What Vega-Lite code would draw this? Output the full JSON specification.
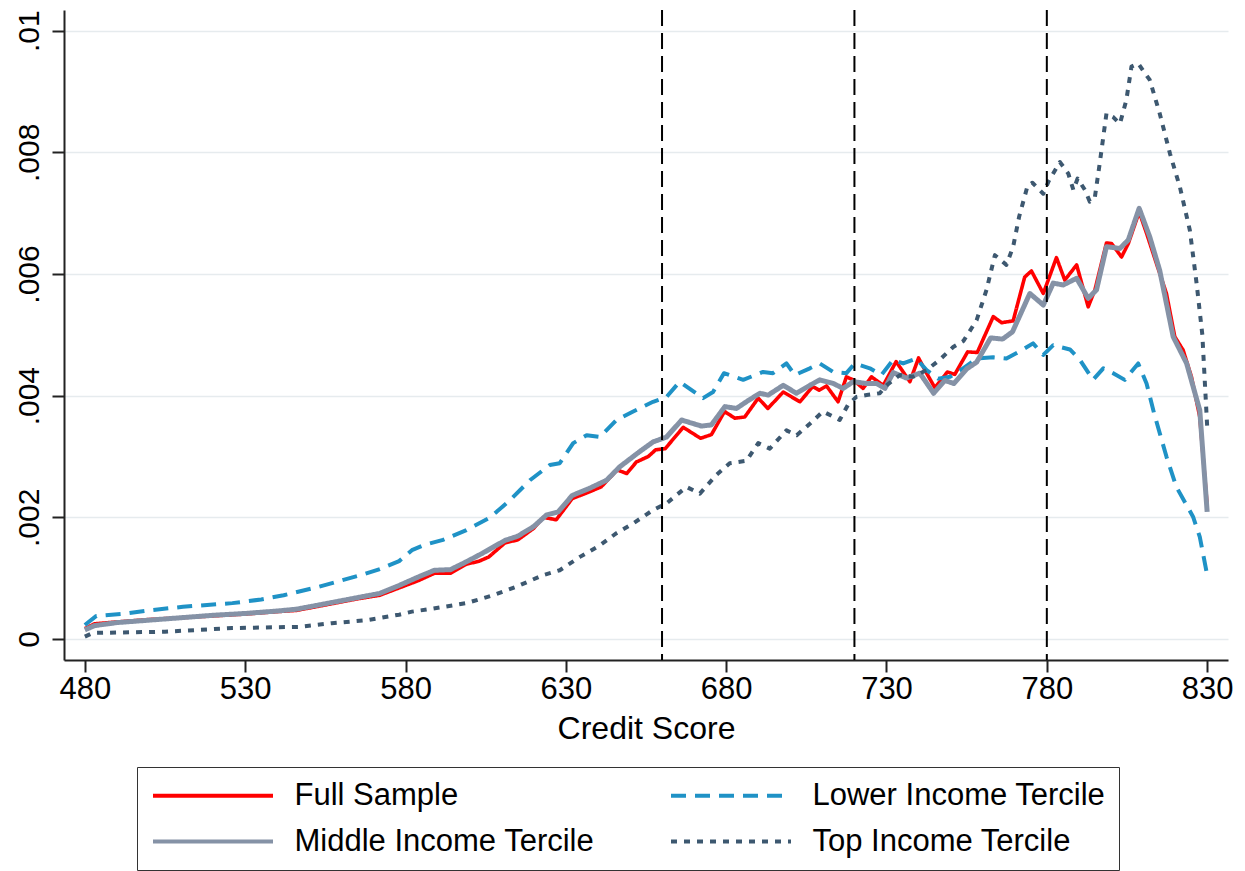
{
  "$schema": "https://vega.github.io/schema/vega-lite/v6.json",
  "width": 1164,
  "height": 650,
  "autosize": {"type": "none"},
  "padding": {"left": 64, "top": 10, "right": 17, "bottom": 211},
  "background": "white",
  "config": {
    "view": {"stroke": null},
    "font": "Liberation Sans"
  },
  "datasets": {
    "curves": [
      {"series": "Full Sample", "score": 480, "rate": 0.00017},
      {"series": "Full Sample", "score": 483, "rate": 0.00025},
      {"series": "Full Sample", "score": 490, "rate": 0.00028},
      {"series": "Full Sample", "score": 500, "rate": 0.00032},
      {"series": "Full Sample", "score": 510, "rate": 0.00035},
      {"series": "Full Sample", "score": 520, "rate": 0.00038},
      {"series": "Full Sample", "score": 530, "rate": 0.00041},
      {"series": "Full Sample", "score": 540, "rate": 0.00045},
      {"series": "Full Sample", "score": 546, "rate": 0.00047},
      {"series": "Full Sample", "score": 552, "rate": 0.00053},
      {"series": "Full Sample", "score": 558, "rate": 0.00059},
      {"series": "Full Sample", "score": 565, "rate": 0.00066},
      {"series": "Full Sample", "score": 572, "rate": 0.00072},
      {"series": "Full Sample", "score": 578, "rate": 0.00084},
      {"series": "Full Sample", "score": 584, "rate": 0.00096},
      {"series": "Full Sample", "score": 589, "rate": 0.00108},
      {"series": "Full Sample", "score": 594, "rate": 0.00108},
      {"series": "Full Sample", "score": 599, "rate": 0.00123},
      {"series": "Full Sample", "score": 603, "rate": 0.00128},
      {"series": "Full Sample", "score": 606, "rate": 0.00135},
      {"series": "Full Sample", "score": 611, "rate": 0.00158},
      {"series": "Full Sample", "score": 615, "rate": 0.00163},
      {"series": "Full Sample", "score": 620, "rate": 0.00182},
      {"series": "Full Sample", "score": 623, "rate": 0.002},
      {"series": "Full Sample", "score": 627, "rate": 0.00196},
      {"series": "Full Sample", "score": 632, "rate": 0.00231},
      {"series": "Full Sample", "score": 636, "rate": 0.00239},
      {"series": "Full Sample", "score": 641, "rate": 0.0025},
      {"series": "Full Sample", "score": 646, "rate": 0.00278},
      {"series": "Full Sample", "score": 649, "rate": 0.00272},
      {"series": "Full Sample", "score": 652, "rate": 0.00291},
      {"series": "Full Sample", "score": 655.7, "rate": 0.003},
      {"series": "Full Sample", "score": 658, "rate": 0.00311},
      {"series": "Full Sample", "score": 661, "rate": 0.00313},
      {"series": "Full Sample", "score": 666.6, "rate": 0.00348},
      {"series": "Full Sample", "score": 672, "rate": 0.0033},
      {"series": "Full Sample", "score": 675.4, "rate": 0.00336},
      {"series": "Full Sample", "score": 679.5, "rate": 0.00374},
      {"series": "Full Sample", "score": 682.7, "rate": 0.00363},
      {"series": "Full Sample", "score": 685.8, "rate": 0.00365},
      {"series": "Full Sample", "score": 690, "rate": 0.00396},
      {"series": "Full Sample", "score": 693, "rate": 0.00379},
      {"series": "Full Sample", "score": 697.8, "rate": 0.00406},
      {"series": "Full Sample", "score": 703, "rate": 0.0039},
      {"series": "Full Sample", "score": 707, "rate": 0.00415},
      {"series": "Full Sample", "score": 709, "rate": 0.00409},
      {"series": "Full Sample", "score": 711.3, "rate": 0.00416},
      {"series": "Full Sample", "score": 714.9, "rate": 0.0039},
      {"series": "Full Sample", "score": 717.5, "rate": 0.00431},
      {"series": "Full Sample", "score": 719.6, "rate": 0.00426},
      {"series": "Full Sample", "score": 722.7, "rate": 0.00412},
      {"series": "Full Sample", "score": 725.3, "rate": 0.00431},
      {"series": "Full Sample", "score": 729, "rate": 0.00417},
      {"series": "Full Sample", "score": 733, "rate": 0.00456},
      {"series": "Full Sample", "score": 737.3, "rate": 0.00423},
      {"series": "Full Sample", "score": 740, "rate": 0.00462},
      {"series": "Full Sample", "score": 742.5, "rate": 0.00437},
      {"series": "Full Sample", "score": 745.1, "rate": 0.00413},
      {"series": "Full Sample", "score": 749, "rate": 0.00439},
      {"series": "Full Sample", "score": 751.3, "rate": 0.00435},
      {"series": "Full Sample", "score": 755.3, "rate": 0.00472},
      {"series": "Full Sample", "score": 758.3, "rate": 0.00471},
      {"series": "Full Sample", "score": 763.3, "rate": 0.0053},
      {"series": "Full Sample", "score": 765.9, "rate": 0.0052},
      {"series": "Full Sample", "score": 769.5, "rate": 0.00523},
      {"series": "Full Sample", "score": 773.1, "rate": 0.00595},
      {"series": "Full Sample", "score": 775.2, "rate": 0.00605},
      {"series": "Full Sample", "score": 778.9, "rate": 0.00568},
      {"series": "Full Sample", "score": 783, "rate": 0.00627},
      {"series": "Full Sample", "score": 785.6, "rate": 0.0059},
      {"series": "Full Sample", "score": 789.3, "rate": 0.00615},
      {"series": "Full Sample", "score": 792.9, "rate": 0.00546},
      {"series": "Full Sample", "score": 795, "rate": 0.00574},
      {"series": "Full Sample", "score": 798.6, "rate": 0.00651},
      {"series": "Full Sample", "score": 800.2, "rate": 0.0065},
      {"series": "Full Sample", "score": 803.3, "rate": 0.00628},
      {"series": "Full Sample", "score": 805.4, "rate": 0.0065},
      {"series": "Full Sample", "score": 808.8, "rate": 0.00702},
      {"series": "Full Sample", "score": 811.1, "rate": 0.00667},
      {"series": "Full Sample", "score": 814.2, "rate": 0.00617},
      {"series": "Full Sample", "score": 817.3, "rate": 0.00568},
      {"series": "Full Sample", "score": 819.9, "rate": 0.00497},
      {"series": "Full Sample", "score": 822.5, "rate": 0.00475},
      {"series": "Full Sample", "score": 825.1, "rate": 0.00431},
      {"series": "Full Sample", "score": 827.7, "rate": 0.00365},
      {"series": "Full Sample", "score": 830, "rate": 0.0022},

      {"series": "Lower Income Tercile", "score": 480, "rate": 0.00023},
      {"series": "Lower Income Tercile", "score": 483.6, "rate": 0.00038},
      {"series": "Lower Income Tercile", "score": 493, "rate": 0.00042},
      {"series": "Lower Income Tercile", "score": 500, "rate": 0.00047},
      {"series": "Lower Income Tercile", "score": 510.6, "rate": 0.00053},
      {"series": "Lower Income Tercile", "score": 526, "rate": 0.00059},
      {"series": "Lower Income Tercile", "score": 535, "rate": 0.00065},
      {"series": "Lower Income Tercile", "score": 542, "rate": 0.00072},
      {"series": "Lower Income Tercile", "score": 553, "rate": 0.00086},
      {"series": "Lower Income Tercile", "score": 566, "rate": 0.00105},
      {"series": "Lower Income Tercile", "score": 572, "rate": 0.00115},
      {"series": "Lower Income Tercile", "score": 578, "rate": 0.00128},
      {"series": "Lower Income Tercile", "score": 582, "rate": 0.00146},
      {"series": "Lower Income Tercile", "score": 586, "rate": 0.00155},
      {"series": "Lower Income Tercile", "score": 591.7, "rate": 0.00163},
      {"series": "Lower Income Tercile", "score": 599, "rate": 0.00179},
      {"series": "Lower Income Tercile", "score": 605.8, "rate": 0.00198},
      {"series": "Lower Income Tercile", "score": 608.4, "rate": 0.00209},
      {"series": "Lower Income Tercile", "score": 612.5, "rate": 0.00228},
      {"series": "Lower Income Tercile", "score": 618.8, "rate": 0.00261},
      {"series": "Lower Income Tercile", "score": 625, "rate": 0.00286},
      {"series": "Lower Income Tercile", "score": 628.1, "rate": 0.00289},
      {"series": "Lower Income Tercile", "score": 632.3, "rate": 0.00322},
      {"series": "Lower Income Tercile", "score": 636.5, "rate": 0.00335},
      {"series": "Lower Income Tercile", "score": 640.6, "rate": 0.00332},
      {"series": "Lower Income Tercile", "score": 645.8, "rate": 0.0036},
      {"series": "Lower Income Tercile", "score": 651, "rate": 0.00374},
      {"series": "Lower Income Tercile", "score": 657.2, "rate": 0.0039},
      {"series": "Lower Income Tercile", "score": 661.4, "rate": 0.00398},
      {"series": "Lower Income Tercile", "score": 665.5, "rate": 0.00423},
      {"series": "Lower Income Tercile", "score": 669, "rate": 0.0041},
      {"series": "Lower Income Tercile", "score": 672.8, "rate": 0.00396},
      {"series": "Lower Income Tercile", "score": 675.9, "rate": 0.00406},
      {"series": "Lower Income Tercile", "score": 679.3, "rate": 0.00437},
      {"series": "Lower Income Tercile", "score": 685.3, "rate": 0.00426},
      {"series": "Lower Income Tercile", "score": 691.5, "rate": 0.00439},
      {"series": "Lower Income Tercile", "score": 694.6, "rate": 0.00437},
      {"series": "Lower Income Tercile", "score": 698.8, "rate": 0.00453},
      {"series": "Lower Income Tercile", "score": 701.4, "rate": 0.00434},
      {"series": "Lower Income Tercile", "score": 706.1, "rate": 0.00445},
      {"series": "Lower Income Tercile", "score": 709.2, "rate": 0.00453},
      {"series": "Lower Income Tercile", "score": 713.4, "rate": 0.00439},
      {"series": "Lower Income Tercile", "score": 717.5, "rate": 0.00437},
      {"series": "Lower Income Tercile", "score": 720.1, "rate": 0.00453},
      {"series": "Lower Income Tercile", "score": 724.8, "rate": 0.00445},
      {"series": "Lower Income Tercile", "score": 728.4, "rate": 0.00434},
      {"series": "Lower Income Tercile", "score": 732.1, "rate": 0.00459},
      {"series": "Lower Income Tercile", "score": 735.2, "rate": 0.00453},
      {"series": "Lower Income Tercile", "score": 739.3, "rate": 0.00461},
      {"series": "Lower Income Tercile", "score": 742.5, "rate": 0.00442},
      {"series": "Lower Income Tercile", "score": 746.1, "rate": 0.00428},
      {"series": "Lower Income Tercile", "score": 749.8, "rate": 0.00431},
      {"series": "Lower Income Tercile", "score": 753.9, "rate": 0.00445},
      {"series": "Lower Income Tercile", "score": 758.1, "rate": 0.00461},
      {"series": "Lower Income Tercile", "score": 763.3, "rate": 0.00463},
      {"series": "Lower Income Tercile", "score": 767.4, "rate": 0.00461},
      {"series": "Lower Income Tercile", "score": 771.6, "rate": 0.00473},
      {"series": "Lower Income Tercile", "score": 775.7, "rate": 0.00486},
      {"series": "Lower Income Tercile", "score": 778.9, "rate": 0.00467},
      {"series": "Lower Income Tercile", "score": 782, "rate": 0.00483},
      {"series": "Lower Income Tercile", "score": 787.2, "rate": 0.00476},
      {"series": "Lower Income Tercile", "score": 790.3, "rate": 0.00459},
      {"series": "Lower Income Tercile", "score": 794.4, "rate": 0.00426},
      {"series": "Lower Income Tercile", "score": 797.6, "rate": 0.00445},
      {"series": "Lower Income Tercile", "score": 800.7, "rate": 0.00437},
      {"series": "Lower Income Tercile", "score": 804.3, "rate": 0.00426},
      {"series": "Lower Income Tercile", "score": 808.5, "rate": 0.00453},
      {"series": "Lower Income Tercile", "score": 811.1, "rate": 0.0042},
      {"series": "Lower Income Tercile", "score": 813.5, "rate": 0.0037},
      {"series": "Lower Income Tercile", "score": 817.3, "rate": 0.003},
      {"series": "Lower Income Tercile", "score": 820.4, "rate": 0.0025},
      {"series": "Lower Income Tercile", "score": 825.6, "rate": 0.00201},
      {"series": "Lower Income Tercile", "score": 827.7, "rate": 0.00168},
      {"series": "Lower Income Tercile", "score": 830, "rate": 0.00105},

      {"series": "Middle Income Tercile", "score": 480, "rate": 0.00015},
      {"series": "Middle Income Tercile", "score": 483, "rate": 0.00022},
      {"series": "Middle Income Tercile", "score": 490, "rate": 0.00027},
      {"series": "Middle Income Tercile", "score": 500, "rate": 0.00031},
      {"series": "Middle Income Tercile", "score": 510, "rate": 0.00035},
      {"series": "Middle Income Tercile", "score": 520, "rate": 0.00039},
      {"series": "Middle Income Tercile", "score": 530, "rate": 0.00042},
      {"series": "Middle Income Tercile", "score": 540, "rate": 0.00046},
      {"series": "Middle Income Tercile", "score": 546, "rate": 0.00049},
      {"series": "Middle Income Tercile", "score": 552, "rate": 0.00055},
      {"series": "Middle Income Tercile", "score": 558, "rate": 0.00061},
      {"series": "Middle Income Tercile", "score": 565, "rate": 0.00068},
      {"series": "Middle Income Tercile", "score": 572, "rate": 0.00075},
      {"series": "Middle Income Tercile", "score": 578, "rate": 0.00088},
      {"series": "Middle Income Tercile", "score": 584, "rate": 0.00102},
      {"series": "Middle Income Tercile", "score": 589, "rate": 0.00113},
      {"series": "Middle Income Tercile", "score": 594, "rate": 0.00114},
      {"series": "Middle Income Tercile", "score": 599, "rate": 0.00127},
      {"series": "Middle Income Tercile", "score": 604, "rate": 0.00141},
      {"series": "Middle Income Tercile", "score": 611, "rate": 0.00162},
      {"series": "Middle Income Tercile", "score": 615, "rate": 0.00169},
      {"series": "Middle Income Tercile", "score": 620, "rate": 0.00185},
      {"series": "Middle Income Tercile", "score": 624, "rate": 0.00204},
      {"series": "Middle Income Tercile", "score": 627.6, "rate": 0.00209},
      {"series": "Middle Income Tercile", "score": 632, "rate": 0.00236},
      {"series": "Middle Income Tercile", "score": 637.5, "rate": 0.00248},
      {"series": "Middle Income Tercile", "score": 642.7, "rate": 0.00261},
      {"series": "Middle Income Tercile", "score": 646.8, "rate": 0.00283},
      {"series": "Middle Income Tercile", "score": 653, "rate": 0.00308},
      {"series": "Middle Income Tercile", "score": 657.2, "rate": 0.00324},
      {"series": "Middle Income Tercile", "score": 661.4, "rate": 0.00332},
      {"series": "Middle Income Tercile", "score": 666.1, "rate": 0.0036},
      {"series": "Middle Income Tercile", "score": 672.3, "rate": 0.0035},
      {"series": "Middle Income Tercile", "score": 675.4, "rate": 0.00352},
      {"series": "Middle Income Tercile", "score": 679.6, "rate": 0.00382},
      {"series": "Middle Income Tercile", "score": 683.2, "rate": 0.00379},
      {"series": "Middle Income Tercile", "score": 686.3, "rate": 0.0039},
      {"series": "Middle Income Tercile", "score": 690.5, "rate": 0.00404},
      {"series": "Middle Income Tercile", "score": 693.1, "rate": 0.00401},
      {"series": "Middle Income Tercile", "score": 697.8, "rate": 0.00417},
      {"series": "Middle Income Tercile", "score": 701.9, "rate": 0.00404},
      {"series": "Middle Income Tercile", "score": 706.1, "rate": 0.00417},
      {"series": "Middle Income Tercile", "score": 709.2, "rate": 0.00426},
      {"series": "Middle Income Tercile", "score": 713.4, "rate": 0.0042},
      {"series": "Middle Income Tercile", "score": 716.5, "rate": 0.00412},
      {"series": "Middle Income Tercile", "score": 719.6, "rate": 0.00423},
      {"series": "Middle Income Tercile", "score": 723.8, "rate": 0.0042},
      {"series": "Middle Income Tercile", "score": 726.9, "rate": 0.0042},
      {"series": "Middle Income Tercile", "score": 729.5, "rate": 0.00412},
      {"series": "Middle Income Tercile", "score": 732.1, "rate": 0.00438},
      {"series": "Middle Income Tercile", "score": 736.2, "rate": 0.00429},
      {"series": "Middle Income Tercile", "score": 740.4, "rate": 0.00437},
      {"series": "Middle Income Tercile", "score": 744.7, "rate": 0.00404},
      {"series": "Middle Income Tercile", "score": 748.2, "rate": 0.00425},
      {"series": "Middle Income Tercile", "score": 751, "rate": 0.0042},
      {"series": "Middle Income Tercile", "score": 755, "rate": 0.00444},
      {"series": "Middle Income Tercile", "score": 758.1, "rate": 0.00455},
      {"series": "Middle Income Tercile", "score": 762.5, "rate": 0.00495},
      {"series": "Middle Income Tercile", "score": 766.2, "rate": 0.00493},
      {"series": "Middle Income Tercile", "score": 769.3, "rate": 0.00505},
      {"series": "Middle Income Tercile", "score": 774.7, "rate": 0.00568},
      {"series": "Middle Income Tercile", "score": 778.9, "rate": 0.00549},
      {"series": "Middle Income Tercile", "score": 782, "rate": 0.00585},
      {"series": "Middle Income Tercile", "score": 785.1, "rate": 0.00582},
      {"series": "Middle Income Tercile", "score": 789.3, "rate": 0.00593},
      {"series": "Middle Income Tercile", "score": 792.9, "rate": 0.0056},
      {"series": "Middle Income Tercile", "score": 795.5, "rate": 0.00574},
      {"series": "Middle Income Tercile", "score": 798.6, "rate": 0.00645},
      {"series": "Middle Income Tercile", "score": 802.8, "rate": 0.00642},
      {"series": "Middle Income Tercile", "score": 805.4, "rate": 0.00656},
      {"series": "Middle Income Tercile", "score": 808.8, "rate": 0.00708},
      {"series": "Middle Income Tercile", "score": 812.1, "rate": 0.00661},
      {"series": "Middle Income Tercile", "score": 815.2, "rate": 0.00606},
      {"series": "Middle Income Tercile", "score": 819.4, "rate": 0.00497},
      {"series": "Middle Income Tercile", "score": 823.6, "rate": 0.00453},
      {"series": "Middle Income Tercile", "score": 827.7, "rate": 0.00376},
      {"series": "Middle Income Tercile", "score": 830, "rate": 0.00209},

      {"series": "Top Income Tercile", "score": 480, "rate": 0.00004},
      {"series": "Top Income Tercile", "score": 482.5, "rate": 0.0001},
      {"series": "Top Income Tercile", "score": 505, "rate": 0.00012},
      {"series": "Top Income Tercile", "score": 526, "rate": 0.00018},
      {"series": "Top Income Tercile", "score": 547, "rate": 0.0002},
      {"series": "Top Income Tercile", "score": 557, "rate": 0.00026},
      {"series": "Top Income Tercile", "score": 568, "rate": 0.00031},
      {"series": "Top Income Tercile", "score": 578, "rate": 0.0004},
      {"series": "Top Income Tercile", "score": 582, "rate": 0.00045},
      {"series": "Top Income Tercile", "score": 588.6, "rate": 0.0005},
      {"series": "Top Income Tercile", "score": 599, "rate": 0.00059},
      {"series": "Top Income Tercile", "score": 607.3, "rate": 0.00072},
      {"series": "Top Income Tercile", "score": 614.6, "rate": 0.00086},
      {"series": "Top Income Tercile", "score": 622.9, "rate": 0.00105},
      {"series": "Top Income Tercile", "score": 628.1, "rate": 0.00113},
      {"series": "Top Income Tercile", "score": 634.4, "rate": 0.00135},
      {"series": "Top Income Tercile", "score": 640.6, "rate": 0.00154},
      {"series": "Top Income Tercile", "score": 645.8, "rate": 0.00174},
      {"series": "Top Income Tercile", "score": 651, "rate": 0.0019},
      {"series": "Top Income Tercile", "score": 657.2, "rate": 0.00212},
      {"series": "Top Income Tercile", "score": 661.4, "rate": 0.00223},
      {"series": "Top Income Tercile", "score": 667.6, "rate": 0.0025},
      {"series": "Top Income Tercile", "score": 671.8, "rate": 0.00239},
      {"series": "Top Income Tercile", "score": 677, "rate": 0.0027},
      {"series": "Top Income Tercile", "score": 681.1, "rate": 0.00289},
      {"series": "Top Income Tercile", "score": 686.3, "rate": 0.00293},
      {"series": "Top Income Tercile", "score": 690, "rate": 0.00322},
      {"series": "Top Income Tercile", "score": 693.6, "rate": 0.00313},
      {"series": "Top Income Tercile", "score": 698.8, "rate": 0.00343},
      {"series": "Top Income Tercile", "score": 702, "rate": 0.00335},
      {"series": "Top Income Tercile", "score": 706.1, "rate": 0.00354},
      {"series": "Top Income Tercile", "score": 710.2, "rate": 0.00374},
      {"series": "Top Income Tercile", "score": 715.4, "rate": 0.0036},
      {"series": "Top Income Tercile", "score": 718, "rate": 0.00385},
      {"series": "Top Income Tercile", "score": 720.6, "rate": 0.00398},
      {"series": "Top Income Tercile", "score": 723.8, "rate": 0.00401},
      {"series": "Top Income Tercile", "score": 727.9, "rate": 0.00404},
      {"series": "Top Income Tercile", "score": 730, "rate": 0.00417},
      {"series": "Top Income Tercile", "score": 734.2, "rate": 0.00434},
      {"series": "Top Income Tercile", "score": 738.3, "rate": 0.00431},
      {"series": "Top Income Tercile", "score": 742.5, "rate": 0.00442},
      {"series": "Top Income Tercile", "score": 746.6, "rate": 0.00459},
      {"series": "Top Income Tercile", "score": 750.8, "rate": 0.0048},
      {"series": "Top Income Tercile", "score": 754, "rate": 0.0049},
      {"series": "Top Income Tercile", "score": 758.1, "rate": 0.00524},
      {"series": "Top Income Tercile", "score": 761.2, "rate": 0.00574},
      {"series": "Top Income Tercile", "score": 763.8, "rate": 0.00631},
      {"series": "Top Income Tercile", "score": 767.4, "rate": 0.00615},
      {"series": "Top Income Tercile", "score": 769.5, "rate": 0.00645},
      {"series": "Top Income Tercile", "score": 771.4, "rate": 0.00695},
      {"series": "Top Income Tercile", "score": 774, "rate": 0.00745},
      {"series": "Top Income Tercile", "score": 775.5, "rate": 0.0075},
      {"series": "Top Income Tercile", "score": 778.9, "rate": 0.00732},
      {"series": "Top Income Tercile", "score": 780.6, "rate": 0.00753},
      {"series": "Top Income Tercile", "score": 784.1, "rate": 0.00784},
      {"series": "Top Income Tercile", "score": 786.7, "rate": 0.00765},
      {"series": "Top Income Tercile", "score": 788.3, "rate": 0.00738},
      {"series": "Top Income Tercile", "score": 789.6, "rate": 0.00757},
      {"series": "Top Income Tercile", "score": 791.9, "rate": 0.00738},
      {"series": "Top Income Tercile", "score": 793.4, "rate": 0.00719},
      {"series": "Top Income Tercile", "score": 795, "rate": 0.00727},
      {"series": "Top Income Tercile", "score": 796.5, "rate": 0.00782},
      {"series": "Top Income Tercile", "score": 798.6, "rate": 0.00864},
      {"series": "Top Income Tercile", "score": 800.7, "rate": 0.00858},
      {"series": "Top Income Tercile", "score": 802.8, "rate": 0.00847},
      {"series": "Top Income Tercile", "score": 804.8, "rate": 0.00886},
      {"series": "Top Income Tercile", "score": 806.4, "rate": 0.00941},
      {"series": "Top Income Tercile", "score": 808.5, "rate": 0.00946},
      {"series": "Top Income Tercile", "score": 812.1, "rate": 0.00919},
      {"series": "Top Income Tercile", "score": 815.2, "rate": 0.00864},
      {"series": "Top Income Tercile", "score": 818.4, "rate": 0.00798},
      {"series": "Top Income Tercile", "score": 821.5, "rate": 0.00743},
      {"series": "Top Income Tercile", "score": 824.6, "rate": 0.00672},
      {"series": "Top Income Tercile", "score": 826.7, "rate": 0.00585},
      {"series": "Top Income Tercile", "score": 828.5, "rate": 0.005},
      {"series": "Top Income Tercile", "score": 830, "rate": 0.0035}
    ],
    "cutoffs": [
      {"score": 660},
      {"score": 720},
      {"score": 780}
    ]
  },
  "layer": [
    {
      "data": {"name": "curves"},
      "mark": {"type": "line", "interpolate": "linear", "strokeCap": "butt", "strokeJoin": "round"},
      "encoding": {
        "x": {
          "field": "score",
          "type": "quantitative",
          "scale": {"domain": [473.5, 836.5], "nice": false, "zero": false},
          "axis": {
            "values": [480, 530, 580, 630, 680, 730, 780, 830],
            "title": "Credit Score",
            "titleFontSize": 32,
            "titleFontWeight": "normal",
            "titleColor": "black",
            "titlePadding": 9,
            "labelFontSize": 31,
            "labelColor": "black",
            "labelPadding": 2,
            "labelFlush": false,
            "tickSize": 12,
            "tickWidth": 2,
            "tickColor": "#222",
            "domainColor": "#222",
            "domainWidth": 2,
            "grid": false
          }
        },
        "y": {
          "field": "rate",
          "type": "quantitative",
          "scale": {"domain": [-0.000345, 0.01034], "nice": false, "zero": false},
          "axis": {
            "values": [0, 0.002, 0.004, 0.006, 0.008, 0.01],
            "title": null,
            "labelExpr": "datum.value == 0 ? '0' : replace(format(datum.value, '.3~f'), '0.', '.')",
            "labelAngle": 270,
            "labelAlign": "center",
            "labelBaseline": "alphabetic",
            "labelFontSize": 30,
            "labelColor": "black",
            "labelPadding": 14,
            "labelFlush": false,
            "tickSize": 12,
            "tickWidth": 2,
            "tickColor": "#222",
            "domainColor": "#222",
            "domainWidth": 2,
            "grid": true,
            "gridColor": "#e6ebee",
            "gridWidth": 1.5
          }
        },
        "color": {
          "field": "series",
          "type": "nominal",
          "scale": {
            "domain": ["Full Sample", "Middle Income Tercile", "Lower Income Tercile", "Top Income Tercile"],
            "range": ["#ff0000", "#8592a6", "#1f92c6", "#3d5870"]
          },
          "legend": {
            "title": null,
            "orient": "none",
            "legendX": 73,
            "legendY": 757,
            "columns": 2,
            "columnPadding": 68,
            "rowPadding": 14,
            "padding": 13,
            "strokeColor": "#333",
            "fillColor": "white",
            "symbolType": "M0,0H12",
            "symbolSize": 400,
            "symbolStrokeWidth": 4,
            "symbolOffset": -12.5,
            "labelOffset": 126,
            "labelFontSize": 31,
            "labelColor": "black",
            "labelLimit": 500
          }
        },
        "strokeDash": {
          "field": "series",
          "type": "nominal",
          "scale": {
            "domain": ["Full Sample", "Middle Income Tercile", "Lower Income Tercile", "Top Income Tercile"],
            "range": [[1, 0], [1, 0], [15, 9], [6, 7]]
          },
          "legend": {
            "title": null,
            "orient": "none",
            "legendX": 73,
            "legendY": 757,
            "columns": 2,
            "columnPadding": 68,
            "rowPadding": 14,
            "padding": 13,
            "strokeColor": "#333",
            "fillColor": "white",
            "symbolType": "M0,0H12",
            "symbolSize": 400,
            "symbolStrokeWidth": 4,
            "symbolOffset": -12.5,
            "labelOffset": 126,
            "labelFontSize": 31,
            "labelColor": "black",
            "labelLimit": 500
          }
        },
        "strokeWidth": {
          "condition": [
            {"test": "datum.series === 'Middle Income Tercile'", "value": 5},
            {"test": "datum.series === 'Full Sample'", "value": 3.6}
          ],
          "value": 4
        }
      }
    },
    {
      "data": {"name": "cutoffs"},
      "mark": {"type": "rule", "color": "black", "strokeWidth": 2, "strokeDash": [16, 7]},
      "encoding": {
        "x": {"field": "score", "type": "quantitative"}
      }
    }
  ]
}
